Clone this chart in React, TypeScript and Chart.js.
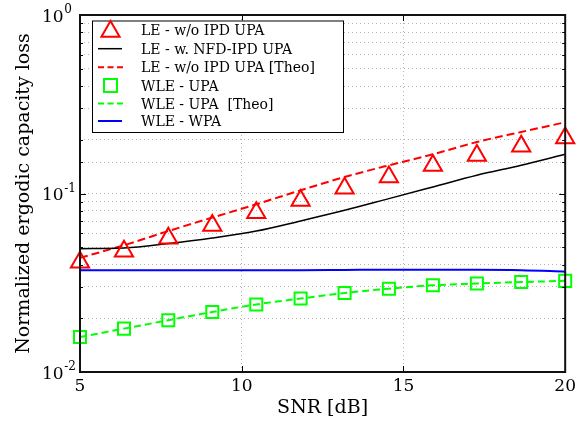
import React, { useEffect, useRef } from 'react';
import { Chart, registerables } from 'chart.js';

Chart.register(...registerables);

const FONT = "'DejaVu Serif', serif";

// SNR [dB]
const snr = [5, 6.36, 7.73, 9.09, 10.45, 11.82, 13.18, 14.55, 15.91, 17.27, 18.64, 20];
// LE - w/o IPD UPA (simulated, triangles)
const leSim = [0.0412, 0.0475, 0.0562, 0.0661, 0.0779, 0.0913, 0.1071, 0.1239, 0.1433, 0.1631, 0.1841, 0.2049];
// LE - w. NFD-IPD UPA
const leNfd = [0.0491, 0.0495, 0.0524, 0.0563, 0.0616, 0.0702, 0.0805, 0.0936, 0.1088, 0.1265, 0.1439, 0.1658];
// LE - w/o IPD UPA [Theo]
const leTheo = [0.0436, 0.0513, 0.0616, 0.0733, 0.087, 0.1042, 0.1237, 0.1439, 0.1658, 0.1943, 0.2211, 0.2506];
// WLE - UPA (simulated, squares)
const wleSim = [0.0157, 0.0175, 0.0195, 0.0217, 0.0239, 0.0258, 0.0277, 0.0293, 0.0306, 0.0313, 0.0319, 0.0324];
// WLE - UPA [Theo]
const wleTheo = [0.0157, 0.0175, 0.0195, 0.0217, 0.0239, 0.0258, 0.0277, 0.0293, 0.0306, 0.0313, 0.0319, 0.0324];
// WLE - WPA
const wleWpa = [0.0371, 0.0371, 0.0371, 0.0371, 0.0372, 0.0372, 0.0373, 0.0374, 0.0374, 0.0374, 0.0372, 0.0365];

const xTicks = [5, 10, 15, 20];
const yDecades = [1, 0.1, 0.01];
const yExponents = ['0', '-1', '-2'];

const legendLabels = [
  'LE - w/o IPD UPA',
  'LE - w. NFD-IPD UPA',
  'LE - w/o IPD UPA [Theo]',
  'WLE - UPA',
  'WLE - UPA  [Theo]',
  'WLE - WPA',
];

const RED = '#ff0000';
const GREEN = '#00ff00';
const BLUE = '#0000ff';

const pts = (ys: number[]) => snr.map((x, i) => ({ x, y: ys[i] }));

const customPlugin = {
  id: 'customDecor',
  afterDraw(chart: any) {
    const { ctx, chartArea: a, scales } = chart;
    const ys = scales.y;
    const xs = scales.x;
    ctx.save();
    const line = (x1: number, y1: number, x2: number, y2: number) => {
      ctx.beginPath();
      ctx.moveTo(x1, y1);
      ctx.lineTo(x2, y2);
      ctx.stroke();
    };
    // inner tick marks
    ctx.strokeStyle = '#000';
    ctx.lineWidth = 1;
    ctx.setLineDash([]);
    ys.ticks.forEach((t: any) => {
      const py = Math.round(ys.getPixelForValue(t.value)) + 0.5;
      const lg = Math.log10(t.value);
      const len = Math.abs(lg - Math.round(lg)) < 1e-6 ? 6 : 3;
      line(a.left, py, a.left + len, py);
      line(a.right - len, py, a.right, py);
    });
    xTicks.forEach((v) => {
      const px = Math.round(xs.getPixelForValue(v)) + 0.5;
      line(px, a.bottom, px, a.bottom - 6);
      line(px, a.top, px, a.top + 6);
    });
    // box
    ctx.lineWidth = 2;
    ctx.strokeStyle = '#111';
    ctx.strokeRect(a.left, a.top, a.right - a.left, a.bottom - a.top);

    // y tick labels with superscripts
    ctx.fillStyle = '#000';
    yDecades.forEach((v, i) => {
      const py = ys.getPixelForValue(v);
      ctx.font = `17px ${FONT}`;
      ctx.textAlign = 'left';
      ctx.textBaseline = 'alphabetic';
      ctx.fillText('10', 42, py + 6.5);
      const w = ctx.measureText('10').width;
      ctx.font = `12px ${FONT}`;
      ctx.fillText(yExponents[i], 42 + w + 0.5, py - 2);
    });

    // legend
    const bx = 92, by = 20.5, bw = 251, bh = 111.5;
    ctx.fillStyle = '#fff';
    ctx.fillRect(bx, by, bw, bh);
    ctx.strokeStyle = '#000';
    ctx.lineWidth = 1;
    ctx.strokeRect(bx + 0.5, by + 0.5, bw, bh);
    const rows = [30, 48.7, 67.2, 85.5, 103.5, 121];
    const sx1 = 98, sx2 = 122, cx = 110.5;
    // row 0: triangle
    ctx.strokeStyle = RED;
    ctx.lineWidth = 2;
    {
      const r = 10.5, cy = rows[0] + 1.5;
      ctx.beginPath();
      ctx.moveTo(cx, cy - r);
      ctx.lineTo(cx + r * Math.sin((2 * Math.PI) / 3), cy + r / 2);
      ctx.lineTo(cx - r * Math.sin((2 * Math.PI) / 3), cy + r / 2);
      ctx.closePath();
      ctx.stroke();
    }
    // row 1: black line
    ctx.strokeStyle = '#000';
    ctx.lineWidth = 1.5;
    line(sx1, rows[1], sx2, rows[1]);
    // row 2: red dashed
    ctx.strokeStyle = RED;
    ctx.lineWidth = 2;
    ctx.setLineDash([6, 3.5]);
    line(sx1, rows[2], sx2 + 1, rows[2]);
    ctx.setLineDash([]);
    // row 3: green square
    ctx.strokeStyle = GREEN;
    ctx.lineWidth = 2;
    ctx.strokeRect(cx - 6.5, rows[3] - 6.5, 13, 13);
    // row 4: green dashed
    ctx.lineWidth = 2;
    ctx.setLineDash([6, 3.5]);
    line(sx1, rows[4], sx2 + 1, rows[4]);
    ctx.setLineDash([]);
    // row 5: blue line
    ctx.strokeStyle = BLUE;
    ctx.lineWidth = 2;
    line(sx1, rows[5], sx2, rows[5]);

    ctx.fillStyle = '#000';
    ctx.font = `14px ${FONT}`;
    ctx.textAlign = 'left';
    ctx.textBaseline = 'alphabetic';
    legendLabels.forEach((t, i) => ctx.fillText(t, 141, rows[i] + 5));
    ctx.restore();
  },
};

export default function App() {
  const ref = useRef<HTMLCanvasElement | null>(null);
  useEffect(() => {
    if (!ref.current) return;
    const gridColor = '#b4b4b4';
    const chart = new Chart(ref.current, {
      type: 'line',
      data: {
        datasets: [
          {
            label: legendLabels[0],
            data: pts(leSim),
            showLine: false,
            pointStyle: 'triangle',
            pointRadius: 10.5,
            pointBorderWidth: 2,
            borderColor: RED,
            pointBorderColor: RED,
            backgroundColor: 'rgba(0,0,0,0)',
            pointBackgroundColor: 'rgba(0,0,0,0)',
            clip: false,
          },
          {
            label: legendLabels[1],
            data: pts(leNfd),
            borderColor: '#000',
            borderWidth: 1.5,
            pointRadius: 0,
            cubicInterpolationMode: 'monotone',
            fill: false,
          },
          {
            label: legendLabels[2],
            data: pts(leTheo),
            borderColor: RED,
            borderWidth: 2,
            borderDash: [8, 4],
            pointRadius: 0,
            cubicInterpolationMode: 'monotone',
            fill: false,
          },
          {
            label: legendLabels[3],
            data: pts(wleSim),
            showLine: false,
            pointStyle: 'rect',
            pointRadius: 8.5,
            pointBorderWidth: 2,
            borderColor: GREEN,
            pointBorderColor: GREEN,
            backgroundColor: 'rgba(0,0,0,0)',
            pointBackgroundColor: 'rgba(0,0,0,0)',
            clip: false,
          },
          {
            label: legendLabels[4],
            data: pts(wleTheo),
            borderColor: GREEN,
            borderWidth: 2,
            borderDash: [7, 4],
            pointRadius: 0,
            cubicInterpolationMode: 'monotone',
            fill: false,
          },
          {
            label: legendLabels[5],
            data: pts(wleWpa),
            borderColor: BLUE,
            borderWidth: 2,
            pointRadius: 0,
            cubicInterpolationMode: 'monotone',
            fill: false,
          },
        ],
      },
      options: {
        animation: false,
        responsive: false,
        maintainAspectRatio: false,
        devicePixelRatio: 1,
        layout: { padding: { top: 15, right: 12.5, left: 0, bottom: 0 } },
        plugins: { legend: { display: false }, tooltip: { enabled: false } },
        scales: {
          x: {
            type: 'linear',
            min: 5,
            max: 20,
            afterFit: (s: any) => {
              s.height = 61;
            },
            ticks: {
              stepSize: 5,
              maxRotation: 0,
              padding: 4,
              color: '#000',
              font: { family: FONT, size: 17 },
            },
            grid: { color: gridColor, drawTicks: false, lineWidth: 1 },
            border: { display: false, dash: [1, 3] },
            title: {
              display: true,
              text: 'SNR [dB]',
              color: '#000',
              font: { family: FONT, size: 19 },
              padding: { top: 0, bottom: 14 },
            },
          },
          y: {
            type: 'logarithmic',
            min: 0.01,
            max: 1,
            afterFit: (s: any) => {
              s.width = 80;
            },
            ticks: { display: false },
            grid: { color: gridColor, drawTicks: false, lineWidth: 1 },
            border: { display: false, dash: [1, 3] },
            title: {
              display: true,
              text: 'Normalized ergodic capacity loss',
              color: '#000',
              font: { family: FONT, size: 19 },
              padding: { top: 13, bottom: 0 },
            },
          },
        },
      },
      plugins: [customPlugin],
    } as any);
    return () => chart.destroy();
  }, []);
  return (
    <div style={{ position: 'absolute', left: 0, top: 0, width: 580, height: 433, background: '#fff' }}>
      <canvas ref={ref} width={580} height={433} style={{ display: 'block' }} />
    </div>
  );
}
